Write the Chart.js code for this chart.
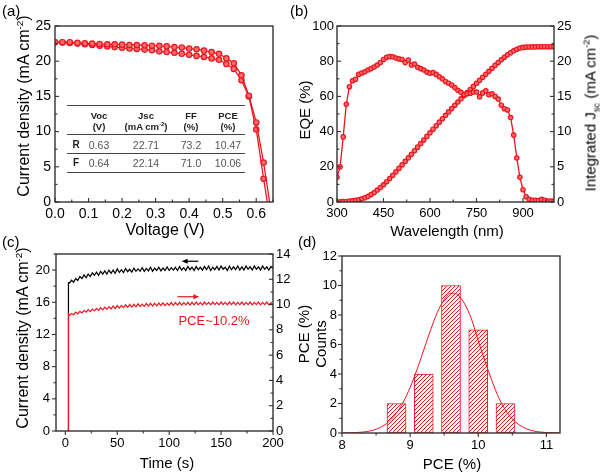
<!DOCTYPE html>
<html><head><meta charset="utf-8">
<script src="https://cdn.jsdelivr.net/npm/chart.js@4/dist/chart.umd.min.js"></script>
<style>
html,body{margin:0;padding:0;background:#fff;width:600px;height:473px;overflow:hidden;}
#wrap{position:relative;width:600px;height:473px;overflow:hidden;font-family:"Liberation Sans",Arial,sans-serif;color:#000;}
canvas{position:absolute;}
.t{position:absolute;white-space:nowrap;line-height:1;}
.rot{transform:translate(-50%,-50%) rotate(-90deg);}
.ctr{transform:translate(-50%,-50%);}
sup,sub{font-size:0.62em;line-height:0;}
.hl{position:absolute;height:0;border-top:1.5px solid #444;}
</style></head>
<body><div id="wrap">
<canvas id="ca" width="300" height="237" style="left:0;top:0"></canvas>
<canvas id="cb" width="300" height="237" style="left:300px;top:0"></canvas>
<canvas id="cc" width="300" height="236" style="left:0;top:237px"></canvas>
<canvas id="cd" width="300" height="236" style="left:300px;top:237px"></canvas>

<div class="t" style="left:2px;top:3px;font-size:15px">(a)</div>
<div class="t" style="left:290px;top:3px;font-size:15px">(b)</div>
<div class="t" style="left:2px;top:234px;font-size:15px">(c)</div>
<div class="t" style="left:298px;top:234px;font-size:15px">(d)</div>

<div class="t rot" style="left:24px;top:106px;font-size:16px">Current density (mA cm<sup>-2</sup>)</div>
<div class="t ctr" style="left:165px;top:230px;font-size:16px">Voltage (V)</div>
<div class="t rot" style="left:304px;top:110px;font-size:15px">EQE (%)</div>
<div class="t rot" style="left:590px;top:113px;font-size:15px">Integrated J<sub>sc</sub> (mA cm<sup>-2</sup>)</div>
<div class="t ctr" style="left:447px;top:230px;font-size:15px">Wavelength (nm)</div>
<div class="t rot" style="left:23px;top:338px;font-size:16px">Current density (mA cm<sup>-2</sup>)</div>
<div class="t rot" style="left:303px;top:334px;font-size:15px">PCE (%)</div>
<div class="t ctr" style="left:167px;top:462px;font-size:15px">Time (s)</div>
<div class="t rot" style="left:320px;top:344px;font-size:15px">Counts</div>
<div class="t ctr" style="left:452px;top:463px;font-size:15px">PCE (%)</div>
<div class="t ctr" style="left:214px;top:320px;font-size:13px;color:#e8171f">PCE~10.2%</div>
<div id="table"></div>
</div>
<script>
// ---------- DATA ----------
// (a) J-V curves
const voltsR = [0,0.022,0.044,0.067,0.089,0.111,0.133,0.156,0.178,0.2,0.222,0.244,0.267,0.289,0.311,0.333,0.356,0.378,0.4,0.422,0.444,0.467,0.489,0.511,0.533,0.556,0.578,0.6,0.622,0.64];
const jR = [22.7,22.7,22.7,22.6,22.55,22.5,22.45,22.4,22.4,22.35,22.3,22.3,22.25,22.2,22.18,22.1,22.0,21.95,21.8,21.7,21.5,21.3,21.05,20.4,19.7,18.0,15.1,11.3,5.6,0];
const voltsF = [0,0.022,0.044,0.067,0.089,0.111,0.133,0.156,0.178,0.2,0.222,0.244,0.267,0.289,0.311,0.333,0.356,0.378,0.4,0.422,0.444,0.467,0.489,0.511,0.533,0.556,0.578,0.6,0.622,0.633];
const jF = [22.7,22.65,22.6,22.5,22.4,22.3,22.2,22.1,22.0,21.9,21.8,21.75,21.65,21.55,21.4,21.3,21.2,21.05,20.9,20.75,20.6,20.4,20.2,19.6,18.9,17.3,15.0,10.3,3.3,0];
// (a) table
const scanDir = ['R','F'];
const vocVals = [0.63,0.64];
const jscVals = [22.71,22.14];
const ffVals = [73.2,71.0];
const pceVals = [10.47,10.06];
// (b) EQE and integrated Jsc
const wavelength = [300,310,320,330,340,350,360,370,380,390,400,410,420,430,440,450,460,470,480,490,500,510,520,530,540,550,560,570,580,590,600,610,620,630,640,650,660,670,680,690,700,710,720,730,740,750,760,770,780,790,800,810,820,830,840,850,860,870,880,890,900,910,920,930,940,950,960,970,980,990,1000];
const eqe = [14,20,37,55.5,65.5,68.9,69.7,72.5,73.3,74,75,75.8,76.7,77.8,79.3,81,82.2,82.6,82.5,81.8,81.3,81,79.2,80.7,77.8,78.4,76.5,75.8,75,73.8,73.2,73.5,72.5,71.2,70,68.5,67.5,66.5,65,63.5,62.3,61,61.5,61.8,62.5,62.5,59.8,62,63.2,61,61.5,60,58.5,55,53,52.3,48,38,25,14,7,3,1.5,1,1,0.8,1.5,1,0.6,0.5,0.5];
const integratedJsc = [0,0.02,0.05,0.08,0.12,0.17,0.24,0.33,0.45,0.6,0.8,1.05,1.35,1.7,2.05,2.45,2.88,3.33,3.8,4.28,4.77,5.27,5.77,6.27,6.77,7.28,7.79,8.3,8.81,9.32,9.83,10.34,10.84,11.34,11.83,12.32,12.8,13.27,13.74,14.2,14.66,15.1,15.54,15.98,16.42,16.86,17.28,17.71,18.15,18.57,19.0,19.41,19.82,20.2,20.56,20.9,21.2,21.48,21.7,21.86,21.96,22.0,22.02,22.03,22.04,22.05,22.05,22.06,22.06,22.06,22.07];
// (c) steady-state output
const time = [3,3,4,6,8,10,12,14,16,18,20,22,24,26,28,30,32,34,36,38,40,42,44,46,48,50,52,54,56,58,60,62,64,66,68,70,72,74,76,78,80,82,84,86,88,90,92,94,96,98,100,102,104,106,108,110,112,114,116,118,120,122,124,126,128,130,132,134,136,138,140,142,144,146,148,150,152,154,156,158,160,162,164,166,168,170,172,174,176,178,180,182,184,186,188,190,192,194,196,198,200];
const currentTrace = [0,18.45,
 18.4,18.75,18.5,18.95,18.7,19.2,18.95,19.4,19.05,19.5,
 19.2,19.65,19.35,19.75,19.35,19.85,19.5,19.9,19.5,20.0,
 19.6,20.0,19.6,20.15,19.7,20.05,19.7,20.2,19.8,20.1,
 19.75,20.25,19.85,20.15,19.85,20.3,19.85,20.2,19.9,20.35,
 19.85,20.25,19.95,20.35,19.9,20.25,19.95,20.4,19.95,20.3,
 20.0,20.35,19.95,20.45,20.0,20.3,19.95,20.45,20.05,20.35,
 19.95,20.45,20.05,20.35,20.0,20.45,20.05,20.5,19.95,20.35,
 20.05,20.45,20.0,20.5,20.1,20.35,19.95,20.5,20.05,20.4,
 20.05,20.5,20.0,20.4,20.0,20.5,20.1,20.4,20.0,20.5,
 20.1,20.4,20.0,20.5,20.1,20.4,20.0,20.45,20.2];
const pceTrace = [0,9.25,
 9.15,9.3,9.2,9.4,9.26,9.46,9.34,9.54,9.4,9.6,
 9.44,9.64,9.5,9.7,9.54,9.76,9.58,9.8,9.62,9.84,
 9.65,9.88,9.68,9.92,9.72,9.94,9.76,9.98,9.78,10.0,
 9.8,10.02,9.82,10.06,9.84,10.04,9.86,10.08,9.88,10.1,
 9.88,10.1,9.9,10.12,9.92,10.14,9.92,10.12,9.94,10.16,
 9.94,10.16,9.96,10.18,9.96,10.16,9.98,10.18,9.96,10.18,
 9.98,10.2,9.98,10.16,9.98,10.2,10.0,10.18,9.98,10.2,
 10.0,10.18,9.98,10.2,10.0,10.18,9.98,10.2,10.0,10.2,
 9.98,10.18,10.0,10.2,9.98,10.18,10.0,10.2,9.98,10.18,
 10.0,10.2,9.98,10.18,10.0,10.2,9.98,10.16,9.98];
// (c) arrows: [time from, time to, value]
const arrowCurrent = [128,112,21.1];
const arrowPce = [108,129,10.62];
// (d) histogram
const pceBins = [8.8,9.2,9.6,10.0,10.4];
const counts = [2,4,10,7,2];
const fitX = [8.0,8.1,8.2,8.3,8.4,8.5,8.6,8.7,8.8,8.9,9.0,9.1,9.2,9.3,9.4,9.5,9.6,9.7,9.8,9.9,10.0,10.1,10.2,10.3,10.4,10.5,10.6,10.7,10.8,10.9,11.0,11.1,11.2];
const fitY = [0.005,0.013,0.029,0.063,0.13,0.25,0.47,0.82,1.35,2.1,3.09,4.29,5.63,6.98,8.18,9.05,9.48,9.37,8.75,7.73,6.25,4.85,3.55,2.4,1.55,0.95,0.55,0.3,0.15,0.07,0.03,0.012,0.005];

// ---------- STYLE ----------
const RED = '#e8171f';
const FONT = "'Liberation Sans', Arial, sans-serif";
Chart.defaults.font.family = FONT;
Chart.defaults.color = '#000';

const framePlugin = {
  id: 'frame',
  afterDatasetsDraw(chart, args, opts) {
    const {ctx, chartArea: a, scales} = chart;
    ctx.save();
    ctx.strokeStyle = '#333';
    ctx.lineWidth = 1.4;
    ctx.strokeRect(Math.round(a.left), Math.round(a.top), Math.round(a.right) - Math.round(a.left), Math.round(a.bottom) - Math.round(a.top));
    ctx.lineWidth = 1.1;
    for (const [id, dir] of Object.entries(opts.ticks || {})) {
      const s = scales[id]; if (!s) continue;
      const major = s.ticks.map(t => t.value);
      const minor = [];
      for (let i = 0; i < major.length - 1; i++) minor.push((major[i] + major[i + 1]) / 2);
      const step = major[1] - major[0];
      if (major[0] - step / 2 >= s.min) minor.push(major[0] - step / 2);
      if (major[major.length - 1] + step / 2 <= s.max) minor.push(major[major.length - 1] + step / 2);
      const sign = dir === 'in' ? 1 : -1;
      const draw = (v, len) => {
        const p = s.getPixelForValue(v);
        ctx.beginPath();
        if (s.isHorizontal()) { ctx.moveTo(p, a.bottom); ctx.lineTo(p, a.bottom - sign * len); }
        else if (s.position === 'left') { ctx.moveTo(a.left, p); ctx.lineTo(a.left + sign * len, p); }
        else { ctx.moveTo(a.right, p); ctx.lineTo(a.right - sign * len, p); }
        ctx.stroke();
      };
      major.forEach(v => draw(v, 4));
      minor.forEach(v => draw(v, 2.5));
    }
    ctx.restore();
  }
};

const arrowPlugin = {
  id: 'arrows',
  afterDatasetsDraw(chart, args, opts) {
    const {ctx, scales} = chart;
    (opts.items || []).forEach(it => {
      const ys = scales[it.axis];
      const x0 = scales.x.getPixelForValue(it.from), x1 = scales.x.getPixelForValue(it.to);
      const y = ys.getPixelForValue(it.value);
      const d = Math.sign(x1 - x0);
      ctx.save();
      ctx.strokeStyle = it.color; ctx.fillStyle = it.color; ctx.lineWidth = 1.2;
      ctx.beginPath(); ctx.moveTo(x0, y); ctx.lineTo(x1 - d * 4, y); ctx.stroke();
      ctx.beginPath(); ctx.moveTo(x1, y); ctx.lineTo(x1 - d * 6, y - 2.5); ctx.lineTo(x1 - d * 6, y + 2.5); ctx.closePath(); ctx.fill();
      ctx.restore();
    });
  }
};

function axis(o) {
  const size = o.size || 13;
  const s = {
    type: 'linear', min: o.min, max: o.max, position: o.position,
    grid: {display: false, drawTicks: false}, border: {display: false},
    ticks: {stepSize: o.step, includeBounds: false, padding: o.pad, autoSkip: false, maxRotation: 0, font: {size: size}, color: '#000'},
    afterFit: o.w !== undefined ? (sc => { sc.width = o.w; }) : (sc => { sc.height = o.h; })
  };
  if (o.cb) s.ticks.callback = o.cb;
  return s;
}
const baseOpts = (padding) => ({responsive: false, animation: false, events: [], layout: {padding}, plugins: {legend: {display: false}, tooltip: {enabled: false}}});

const markerStyle = (r) => ({borderColor: RED, backgroundColor: RED, borderWidth: 1.3, pointBorderColor: RED, pointBackgroundColor: '#ff6a6a', pointBorderWidth: 1.2, pointRadius: r, tension: 0});

// (a)
{
  const o = baseOpts({top: 26, right: 27, left: 0, bottom: 0});
  o.plugins.frame = {ticks: {x: 'in', y: 'in'}};
  o.scales = {
    x: axis({min: 0, max: 0.65, step: 0.1, pad: 4, h: 35, size: 14, cb: v => v.toFixed(1)}),
    y: axis({min: 0, max: 25, step: 5, pad: 4, w: 55, size: 14, position: 'left'})
  };
  new Chart(document.getElementById('ca'), {
    type: 'line',
    data: {datasets: [
      Object.assign(markerStyle(voltsR.map((v, i) => i === voltsR.length - 1 ? 0 : 2.7)), {data: voltsR.map((v, i) => ({x: v, y: jR[i]}))}),
      Object.assign(markerStyle(voltsF.map((v, i) => i === voltsF.length - 1 ? 0 : 2.7)), {data: voltsF.map((v, i) => ({x: v, y: jF[i]}))})
    ]},
    options: o, plugins: [framePlugin]
  });
}
// table in (a)
{
  const tb = document.getElementById('table');
  const cols = [99, 146, 191, 228];
  const cell = (x, y, html, style) => `<div class="t ctr" style="left:${x}px;top:${y}px;${style}">${html}</div>`;
  let h = '';
  [106, 135, 154, 173].forEach(y => { h += `<div class="hl" style="left:67px;width:178px;top:${y - 1}px"></div>`; });
  const head1 = ['Voc', 'Jsc', 'FF', 'PCE'];
  const head2 = ['(V)', '(mA cm<sup>-2</sup>)', '(%)', '(%)'];
  const hs = 'font-size:9.5px;font-weight:bold;color:#222';
  cols.forEach((x, i) => { h += cell(x, 116, head1[i], hs) + cell(x, 127, head2[i], hs); });
  const vs = 'font-size:10.5px;color:#555';
  scanDir.forEach((d, r) => {
    const y = [145, 163][r];
    h += cell(76, y, d, 'font-size:10px;font-weight:bold;color:#222');
    const row = [vocVals[r].toFixed(2), jscVals[r].toFixed(2), ffVals[r].toFixed(1), pceVals[r].toFixed(2)];
    cols.forEach((x, i) => { h += cell(x, y, row[i], vs); });
  });
  tb.innerHTML = h;
}
// (b)
{
  const o = baseOpts({top: 26, right: 0, left: 0, bottom: 0});
  o.plugins.frame = {ticks: {x: 'in', y: 'in', y1: 'in'}};
  o.scales = {
    x: axis({min: 300, max: 1000, step: 150, pad: 4, h: 35, size: 13}),
    y: axis({min: 0, max: 100, step: 20, pad: 3, w: 37, size: 13, position: 'left'}),
    y1: axis({min: 0, max: 25, step: 5, pad: 3, w: 46, size: 13, position: 'right'})
  };
  new Chart(document.getElementById('cb'), {
    type: 'line',
    data: {labels: wavelength, datasets: [
      Object.assign(markerStyle(2.2), {data: eqe, yAxisID: 'y'}),
      Object.assign(markerStyle(2.2), {data: integratedJsc, yAxisID: 'y1'})
    ]},
    options: o, plugins: [framePlugin]
  });
}
// (c)
{
  const o = baseOpts({top: 17, right: 0, left: 0, bottom: 0});
  o.plugins.frame = {ticks: {x: 'out', y: 'out', y1: 'in'}};
  o.plugins.arrows = {items: [
    {from: arrowCurrent[0], to: arrowCurrent[1], value: arrowCurrent[2], axis: 'y', color: '#000'},
    {from: arrowPce[0], to: arrowPce[1], value: arrowPce[2], axis: 'y1', color: RED}
  ]};
  o.scales = {
    x: axis({min: -9, max: 200, step: 50, pad: 5, h: 42, size: 13}),
    y: axis({min: 0, max: 22, step: 4, pad: 6, w: 56, size: 13, position: 'left'}),
    y1: axis({min: 0, max: 14, step: 2, pad: 3, w: 27, size: 13, position: 'right'})
  };
  new Chart(document.getElementById('cc'), {
    type: 'line',
    data: {labels: time, datasets: [
      {data: pceTrace, yAxisID: 'y1', borderColor: RED, borderWidth: 1.2, pointRadius: 0, tension: 0},
      {data: currentTrace, yAxisID: 'y', borderColor: '#000', borderWidth: 1.2, pointRadius: 0, tension: 0}
    ]},
    options: o, plugins: [framePlugin, arrowPlugin]
  });
}
// (d)
{
  const pc = document.createElement('canvas'); pc.width = 4; pc.height = 4;
  const g = pc.getContext('2d');
  g.fillStyle = '#fff'; g.fillRect(0, 0, 4, 4);
  g.strokeStyle = RED; g.lineWidth = 1;
  g.beginPath(); g.moveTo(-1, 5); g.lineTo(5, -1); g.moveTo(-1, 1); g.lineTo(1, -1); g.moveTo(3, 5); g.lineTo(5, 3); g.stroke();
  const hatch = g.createPattern(pc, 'repeat');
  const o = baseOpts({top: 19, right: 40, left: 0, bottom: 0});
  o.plugins.frame = {ticks: {x: 'out', y: 'out'}};
  o.scales = {
    x: Object.assign(axis({min: 8, max: 11.2, step: 1, pad: 5, h: 40, size: 13}), {offset: false}),
    y: axis({min: 0, max: 12, step: 2, pad: 5, w: 42, size: 13, position: 'left'})
  };
  new Chart(document.getElementById('cd'), {
    type: 'bar',
    data: {datasets: [
      {type: 'line', data: fitX.map((x, i) => ({x, y: fitY[i]})), borderColor: RED, borderWidth: 1, pointRadius: 0, cubicInterpolationMode: 'monotone'},
      {type: 'bar', data: pceBins.map((x, i) => ({x, y: counts[i]})), backgroundColor: hatch, borderColor: RED, borderWidth: 1, borderSkipped: false, barThickness: 19}
    ]},
    options: o, plugins: [framePlugin]
  });
}
</script>
</body></html>
